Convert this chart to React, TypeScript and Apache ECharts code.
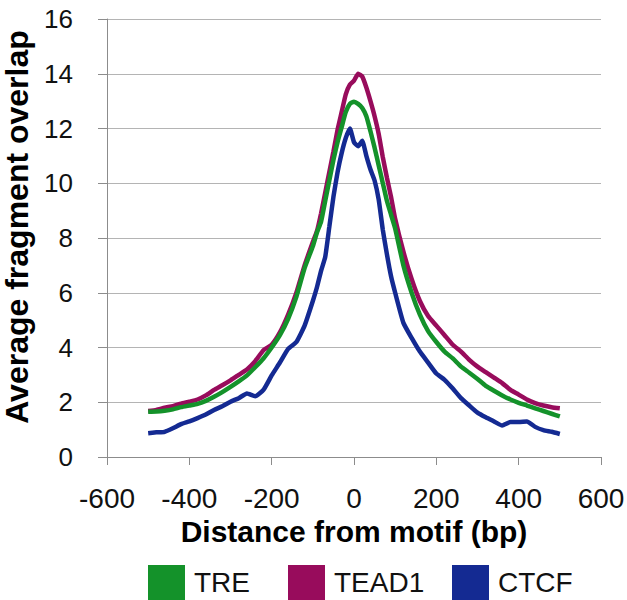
import React, { useEffect, useRef } from "react";
import * as echarts from "echarts";

const distances = [
  -500, -480, -460, -440, -420, -400, -380, -360, -340, -320, -300, -280, -260, -240, -220, -200, -180, -160, -140, -120,
  -100, -90, -80, -70, -60, -50, -40, -30, -20, -10, 0, 10, 20, 30, 40, 50, 60, 70, 80, 90, 100,
  120, 140, 160, 180, 200, 220, 240, 260, 280, 300, 320, 340, 360, 380, 400, 420, 440, 460, 480, 500,
];

const treValues = [
  1.65, 1.66, 1.69, 1.74, 1.82, 1.88, 1.94, 2.05, 2.2, 2.37, 2.56, 2.76, 2.98, 3.28, 3.6, 4.0, 4.45, 5.05, 5.85, 6.9,
  7.7, 8.2, 8.6, 9.35, 10.1, 10.85, 11.5, 12.05, 12.6, 12.9, 12.98, 12.9, 12.75, 12.45, 11.9, 11.3, 10.65, 10.0, 9.35, 8.85, 8.35,
  7.0, 6.0, 5.2, 4.6, 4.2, 3.85, 3.6, 3.3, 3.08, 2.85, 2.6, 2.42, 2.25, 2.1, 1.98, 1.88, 1.78, 1.68, 1.58, 1.48,
];

const tead1Values = [
  1.68, 1.72, 1.8, 1.86, 1.95, 2.02, 2.1, 2.25, 2.45, 2.62, 2.8, 3.0, 3.2, 3.5, 3.9, 4.1, 4.55, 5.2, 6.0, 7.0,
  7.85, 8.25, 8.9, 9.65, 10.4, 11.15, 11.95, 12.6, 13.25, 13.6, 13.75, 14.0, 13.9, 13.5, 13.0, 12.45, 11.8, 10.95, 10.2, 9.5, 8.7,
  7.5, 6.5, 5.7, 5.15, 4.8, 4.45, 4.1, 3.85, 3.55, 3.3, 3.1, 2.9, 2.7, 2.45, 2.28, 2.1, 1.97, 1.88, 1.82, 1.78,
];

const ctcfValues = [
  0.87, 0.9, 0.92, 1.05, 1.2, 1.3, 1.42, 1.55, 1.72, 1.85, 2.02, 2.15, 2.32, 2.22, 2.45, 2.98, 3.45, 3.95, 4.2, 4.8,
  5.7, 6.2, 6.8, 7.3, 8.4, 9.5, 10.4, 11.1, 11.65, 12.0, 11.5, 11.35, 11.55, 11.0, 10.5, 10.1, 9.4, 8.3, 7.4, 6.6, 6.0,
  4.9, 4.35, 3.85, 3.45, 3.05, 2.82, 2.5, 2.15, 1.88, 1.62, 1.45, 1.3, 1.15, 1.28, 1.28, 1.3, 1.1, 0.98, 0.92, 0.84,
];

const seriesNames = ["TRE", "TEAD1", "CTCF"];
const seriesColors: Record<string, string> = { TRE: "#14922a", TEAD1: "#980c5c", CTCF: "#142a92" };

const xTitle = "Distance from motif (bp)";
const yTitle = "Average fragment overlap";

export default function App() {
  const ref = useRef<HTMLDivElement>(null);
  useEffect(() => {
    if (!ref.current) return;
    const chart = echarts.init(ref.current, null, { renderer: "svg" });
    const toPairs = (vals: number[]) => distances.map((d, i) => [d, vals[i]]);
    const font = "Liberation Sans, Arial, sans-serif";
    const mkSeries = (name: string, vals: number[]) => ({
      name,
      type: "line",
      data: toPairs(vals),
      showSymbol: false,
      symbol: "none",
      smooth: 0.15,
      lineStyle: { width: 4.5, color: seriesColors[name] },
      itemStyle: { color: seriesColors[name] },
    });
    const legendLefts = [143, 283, 447];
    chart.setOption({
      animation: false,
      backgroundColor: "#ffffff",
      grid: { left: 107, right: 26, top: 19, bottom: 143, containLabel: false, outerBoundsMode: "none" },
      legend: seriesNames.map((n, i) => ({
        data: [n],
        left: legendLefts[i],
        top: 560,
        icon: "rect",
        itemWidth: 37,
        itemHeight: 35,
        selectedMode: false,
        textStyle: { fontSize: 28, color: "#111", fontFamily: font, padding: [0, 0, 0, 4] },
      })),
      xAxis: {
        type: "value",
        min: -600,
        max: 600,
        interval: 200,
        name: xTitle,
        nameLocation: "middle",
        nameGap: 45,
        nameTextStyle: { fontSize: 30, fontWeight: "bold", color: "#000", fontFamily: font },
        axisLine: { show: true, onZero: false, lineStyle: { color: "#8c8c8c", width: 1 } },
        axisTick: { show: true, length: 8, lineStyle: { color: "#8c8c8c" } },
        axisLabel: { fontSize: 28, color: "#111", margin: 27, fontFamily: font },
        splitLine: { show: false },
      },
      yAxis: {
        type: "value",
        min: 0,
        max: 16,
        interval: 2,
        name: yTitle,
        nameLocation: "middle",
        nameGap: 50,
        nameTextStyle: { fontSize: 32, fontWeight: "bold", color: "#000", fontFamily: font, padding: [0, 0, 0, 22] },
        axisLine: { show: true, onZero: false, lineStyle: { color: "#8c8c8c", width: 1 } },
        axisTick: { show: true, length: 9, lineStyle: { color: "#8c8c8c" } },
        axisLabel: { fontSize: 26, color: "#111", margin: 27, fontFamily: font, padding: [0, 7, 0, 0] },
        splitLine: { show: true, lineStyle: { color: "#b4b4b4", width: 1 } },
      },
      series: [mkSeries("TEAD1", tead1Values), mkSeries("TRE", treValues), mkSeries("CTCF", ctcfValues)],
    });
    return () => chart.dispose();
  }, []);
  return (
    <div
      ref={ref}
      style={{ position: "fixed", left: 0, top: 0, width: 627, height: 600, background: "#fff" }}
    />
  );
}
